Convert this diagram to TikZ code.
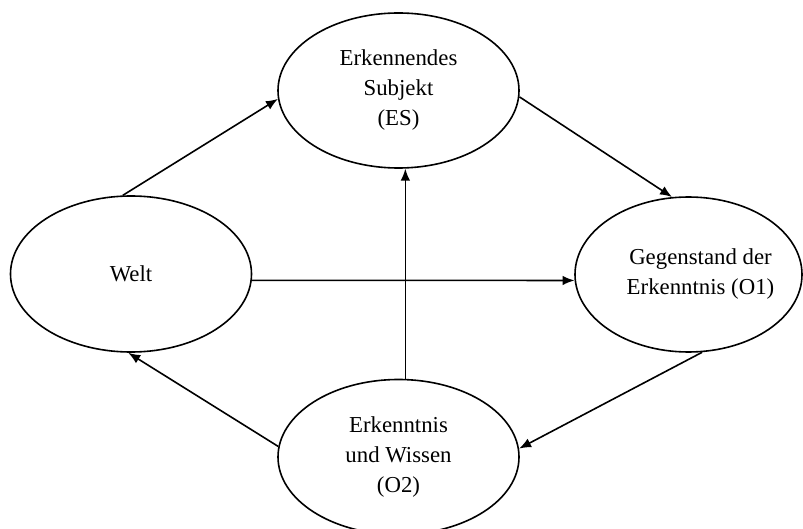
\documentclass[tikz,border=0pt]{standalone}
\usepackage{fontspec}
\setmainfont{Liberation Serif}
\usepackage{tikz}
\usetikzlibrary{shapes,arrows.meta}
\usetikzlibrary{positioning}
\tikzstyle{line} = [draw, -{Latex[length=6pt,width=4.8pt]}, line width=0.8pt]

\begin{document}
\begin{tikzpicture}[x=0.5pt, y=-0.5pt,
	blob/.style={draw, ellipse, line width=0.8pt, inner sep=0pt,
		minimum width=120.5pt, minimum height=77.5pt, align=center,
		font=\fontsize{11.4}{15}\selectfont}]
	\clip (0,0) rectangle (803,529);
	\node [blob] (ES) at (398.5,90.5) {Erkennendes\\Subjekt\\(ES)};
	\node [blob, minimum height=78pt] (W) at (131,274) {Welt};
	\node [blob, minimum width=113.5pt,
		label={[xshift=6pt, align=center, font=\fontsize{11.4}{15}\selectfont]center:Gegenstand der\\Erkenntnis (O1)}] (O1) at (688.5,274.5) {};
	\node [blob] (O2) at (398.5,457) {Erkenntnis\\und Wissen\\(O2)};
    %% Flows
	\path [line] (W.96) -- (ES.184.5);
	\path [line] (ES.-3.6) -- (O1.102);
	\path [line] (W.-3) -- (O1.183);
	\path [line] (O2.85.2) -- (ES.-85.2);
	\path [line] (O1.-80) -- (O2.4.2);
	\path [line] (O2.175.7) -- (W.-92.9);
\end{tikzpicture}
\end{document}
